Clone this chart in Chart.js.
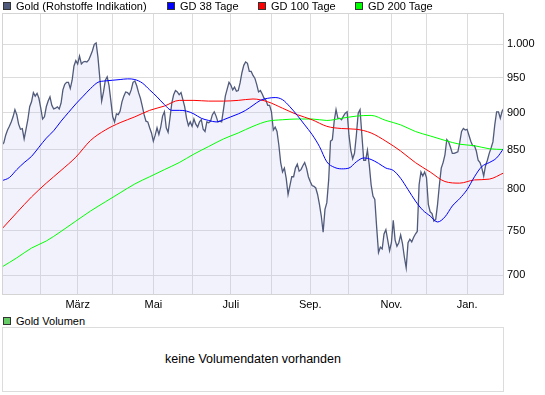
<!DOCTYPE html>
<html>
<head>
<meta charset="utf-8">
<title>Gold (Rohstoffe Indikation)</title>
<script src="https://cdn.jsdelivr.net/npm/chart.js@4.4.1/dist/chart.umd.min.js"></script>
<style>
  body { margin: 0; background: #fff; font-family: 'Liberation Sans', Arial, sans-serif; font-size: 11px; color: #000; }
  #wrap { position: relative; width: 545px; height: 395px; overflow: hidden; }
  #main { position: absolute; left: 0; top: 0; }
  .item { position: absolute; height: 13px; line-height: 13px; white-space: nowrap; }
  .item i { position: absolute; left: 0; top: 2px; width: 8px; height: 8px; box-sizing: border-box; border: 1px solid #333; }
  .item span { position: absolute; left: 13px; top: 0; }
  #volBox { position: absolute; left: 2px; top: 327px; width: 502px; height: 65px; box-sizing: border-box; border: 1px solid #dcdcdc; text-align: center; line-height: 62px; font-size: 12.5px; }
</style>
</head>
<body>
<div id="wrap">
  <canvas id="main" width="545" height="315"></canvas>
  <div id="legend"></div>
  <div class="item" style="left:3px;top:315px"><i style="background:#66cc66"></i><span>Gold Volumen</span></div>
  <div id="volBox">keine Volumendaten vorhanden</div>
</div>
<script>
// one value per trading day, Jan 2008 .. Jan 2009
const goldPrice = [
  856, 859, 869, 876, 881, 887, 894, 904, 897, 884,
  877, 878, 864, 877, 890, 908, 915, 928, 923, 927,
  920, 906, 891, 894, 908, 916, 922, 910, 905, 906,
  908, 905, 913, 932, 940, 943, 943, 934, 946, 967,
  975, 970, 982, 970, 973, 974, 973, 976, 983, 990,
  1000, 1002, 980, 949, 916, 929, 946, 951, 938, 916,
  894, 887, 898, 897, 902, 915, 923, 929, 928, 925,
  932, 943, 945, 938, 928, 920, 909, 897, 888, 887,
  879, 872, 861, 869, 879, 870, 880, 895, 901, 879,
  873, 892, 913, 925, 931, 929, 925, 928, 918, 908,
  892, 882, 887, 881, 891, 884, 880, 887, 890, 877,
  874, 887, 886, 888, 897, 901, 895, 887, 888, 887,
  904, 923, 933, 943, 939, 932, 936, 930, 931, 942,
  957, 968, 973, 971, 959, 959, 953, 949, 940, 929,
  931, 926, 920, 917, 910, 910, 901, 876, 880, 874,
  856, 833, 821, 826, 813, 793, 804, 815, 815, 826,
  831, 822, 824, 829, 833, 826, 815, 809, 804, 803,
  801, 793, 781, 767, 748, 775, 783, 811, 861, 863,
  888, 904, 892, 892, 890, 895, 899, 901, 869, 849,
  838, 845, 869, 899, 904, 869, 836, 836, 849, 830,
  805, 791, 787, 754, 725, 731, 729, 746, 751, 739,
  727, 736, 762, 739, 732, 736, 745, 735, 720, 708,
  736, 740, 737, 742, 746, 749, 805, 821, 816, 821,
  814, 781, 772, 770, 761, 763, 781, 805, 826, 833,
  843, 863, 860, 853, 845, 845, 846, 847, 859, 874,
  878, 876, 877, 869, 861, 855, 855, 848, 836, 833,
  826, 816, 829, 836, 845, 852, 860, 883, 901, 901,
  892, 902, 906
];

// GD 38: every 4th trading day
const gd38 = [
  810, 814, 824, 833, 841, 853, 865, 875, 888, 900,
  912, 923, 934, 943, 945, 946, 947, 948, 947, 942,
  932, 922, 911, 903, 903, 902, 898, 892, 889, 887,
  890, 894, 898, 903, 910, 917, 920, 921, 918, 908,
  896, 883, 870, 854, 834, 827, 825, 826, 834, 839,
  837, 832, 826, 823, 813, 799, 785, 774, 767, 760,
  766, 779, 788, 799, 815, 828, 833, 839, 852
];

// GD 100 and GD 200: every 8th trading day
const gd100 = [
  752, 771, 790, 807, 823, 840, 862, 876, 886, 894,
  903, 909, 917, 917, 916, 916, 917, 919, 915, 906,
  897, 890, 881, 878, 877, 872, 861, 848, 833, 821,
  809, 807, 811, 812, 820
];
const gd200 = [
  709, 719, 730, 738, 749, 761, 773, 784, 795, 806,
  815, 824, 833, 844, 854, 864, 872, 881, 888, 890,
  891, 891, 889, 892, 895, 896, 889, 883, 874, 868,
  862, 857, 855, 851, 850
];

const monthStarts = [21, 41, 60, 82, 103, 124, 146, 167, 188, 211, 230, 252];
const labelDays = [41, 82, 124, 167, 211, 252];
const labelNames = ['März', 'Mai', 'Juli', 'Sep.', 'Nov.', 'Jan.'];
const yTicks = [700, 750, 800, 850, 900, 950, 1000];

const seriesNames = ['Gold (Rohstoffe Indikation)', 'GD 38 Tage', 'GD 100 Tage', 'GD 200 Tage'];
const seriesColors = ['#505a7a', '#0000ff', '#ff0000', '#00ff00'];
const legendX = [3, 167, 258, 355];

// legend row above the chart
const legend = document.getElementById('legend');
seriesNames.forEach((name, i) => {
  const d = document.createElement('div');
  d.className = 'item';
  d.style.left = legendX[i] + 'px';
  d.style.top = '0px';
  d.innerHTML = '<i style="background:' + seriesColors[i] + '"></i><span>' + name + '</span>';
  legend.appendChild(d);
});

const step = (arr, k) => arr.map((v, i) => ({ x: i * k, y: v }));

// plot frame
const framePlugin = {
  id: 'frame',
  afterDraw(chart) {
    const { ctx, chartArea: a } = chart;
    ctx.save();
    ctx.strokeStyle = '#d4d4d4';
    ctx.lineWidth = 1;
    ctx.strokeRect(a.left + 0.5, a.top + 0.5, a.right - a.left - 1, a.bottom - a.top);
    ctx.restore();
  },
};

const fontSpec = { family: "'Liberation Sans', Arial, sans-serif", size: 11 };

new Chart(document.getElementById('main'), {
  type: 'line',
  data: {
    datasets: [
      {
        label: seriesNames[1],
        data: step(gd38, 4),
        borderColor: seriesColors[1],
        borderWidth: 1,
        cubicInterpolationMode: 'monotone',
        pointRadius: 0,
        order: 1,
      },
      {
        label: seriesNames[2],
        data: step(gd100, 8),
        borderColor: seriesColors[2],
        borderWidth: 1,
        cubicInterpolationMode: 'monotone',
        pointRadius: 0,
        order: 2,
      },
      {
        label: seriesNames[3],
        data: step(gd200, 8),
        borderColor: seriesColors[3],
        borderWidth: 1,
        cubicInterpolationMode: 'monotone',
        pointRadius: 0,
        order: 3,
      },
      {
        label: seriesNames[0],
        data: step(goldPrice, 1),
        borderColor: seriesColors[0],
        borderWidth: 1.3,
        backgroundColor: 'rgba(190,190,240,0.2)',
        fill: 'start',
        tension: 0,
        pointRadius: 0,
        order: 4,
      },
    ],
  },
  options: {
    responsive: false,
    animation: false,
    devicePixelRatio: 1,
    layout: { padding: { left: 2, top: 13, right: 0, bottom: 0 } },
    plugins: { legend: { display: false }, tooltip: { enabled: false } },
    scales: {
      x: {
        type: 'linear',
        min: 0,
        max: 272,
        afterBuildTicks: (scale) => {
          scale.ticks = monthStarts.map((v) => ({ value: v }));
        },
        afterFit: (scale) => { scale.height = 21; },
        grid: { color: '#dcdcdc', drawTicks: false },
        border: { display: false },
        ticks: {
          autoSkip: false,
          maxRotation: 0,
          padding: 4,
          color: '#000',
          font: fontSpec,
          callback: (v) => {
            const k = labelDays.indexOf(v);
            return k >= 0 ? labelNames[k] : '';
          },
        },
      },
      y: {
        type: 'logarithmic',
        position: 'right',
        min: 680,
        max: 1049.5,
        afterBuildTicks: (scale) => {
          scale.ticks = yTicks.map((v) => ({ value: v }));
        },
        afterFit: (scale) => { scale.width = 41; },
        grid: { color: '#dcdcdc', drawTicks: false },
        border: { display: false },
        ticks: {
          padding: 3,
          color: '#000',
          font: fontSpec,
          callback: (v) => String(v).replace(/\B(?=(\d{3})+(?!\d))/g, '.'),
        },
      },
    },
  },
  plugins: [framePlugin],
});
</script>
</body>
</html>
